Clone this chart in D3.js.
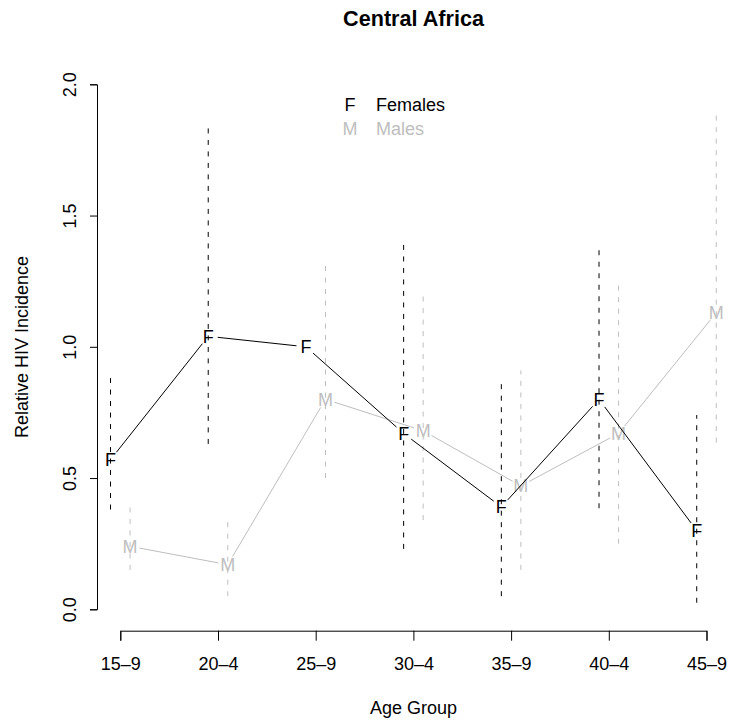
<!DOCTYPE html>
<html>
<head>
<meta charset="utf-8">
<script src="https://cdn.jsdelivr.net/npm/d3@7"></script>
<style>
  body { margin: 0; background: #fff; }
  text { font-family: "Liberation Sans", Arial, sans-serif; }
</style>
</head>
<body>
<svg id="chart" width="729" height="723"></svg>
<script>
// ==========================================================================
// DATA
// ==========================================================================

var ageGroups = ["15\u20139", "20\u20134", "25\u20139", "30\u20134", "35\u20139", "40\u20134", "45\u20139"]

var femaleRR = [0.57, 1.04, 1.00, 0.67, 0.39, 0.80, 0.30]
var femaleLo = [0.38, 0.63, null, 0.23, 0.05, 0.385, 0.025]
var femaleHi = [0.90, 1.85, null, 1.41, 0.86, 1.39, 0.74]

var maleRR = [0.24, 0.17, 0.80, 0.68, 0.47, 0.67, 1.13]
var maleLo = [0.15, 0.05, 0.50, 0.34, 0.15, 0.25, 0.635]
var maleHi = [0.40, 0.35, 1.31, 1.20, 0.91, 1.25, 1.895]

var yTicks = [0, 0.5, 1, 1.5, 2]

// ==========================================================================
// D3 MAIN
// ==========================================================================

var svg = d3.select("#chart")
var fs = 18
var grey = "#bebebe"

var xScale = d3.scaleLinear().domain([1, 7]).range([120.3, 706.5])
var yScale = d3.scaleLinear().domain([0, 2]).range([609.3, 84.3])

// axes
var yAxis = d3.axisLeft(yScale).tickValues(yTicks).tickSize(7).tickSizeOuter(7)
  .tickFormat(d3.format(".1f"))
var gy = svg.append("g").attr("transform", "translate(97,0)").call(yAxis)
gy.selectAll("text")
  .attr("x", null).attr("dy", null)
  .attr("transform", "translate(-21,0) rotate(-90)")
  .attr("text-anchor", "middle")

var xAxis = d3.axisBottom(xScale).tickValues(d3.range(1, 8)).tickSize(10).tickSizeOuter(10)
  .tickFormat((d, i) => ageGroups[i])
var gx = svg.append("g").attr("transform", "translate(0,630.7)").call(xAxis)
gx.selectAll("text").attr("y", 39.3).attr("dy", null)

svg.selectAll(".domain, .tick line").attr("stroke", "#000").attr("stroke-width", 1)
svg.selectAll(".tick text").attr("font-size", fs).attr("fill", "#000")
  .attr("font-family", "Liberation Sans, Arial, sans-serif")

// titles
svg.append("text").attr("x", 413.5).attr("y", 26).attr("text-anchor", "middle")
  .attr("font-size", 21.6).attr("font-weight", "bold").text("Central Africa")
svg.append("text").attr("x", 413.5).attr("y", 714).attr("text-anchor", "middle")
  .attr("font-size", fs).text("Age Group")
svg.append("text").attr("transform", "translate(28,347) rotate(-90)").attr("text-anchor", "middle")
  .attr("font-size", fs).text("Relative HIV Incidence")

// series
function drawSeries(vals, lo, hi, offset, color, letter) {
  var g = svg.append("g")
  var pts = vals.map((v, i) => [xScale(i + 1 + offset), yScale(v)])

  // confidence intervals
  g.selectAll("line.ci").data(vals.map((v, i) => i).filter(i => lo[i] != null)).enter()
    .append("line")
    .attr("x1", i => xScale(i + 1 + offset)).attr("x2", i => xScale(i + 1 + offset))
    .attr("y1", i => yScale(lo[i])).attr("y2", i => yScale(hi[i]))
    .attr("stroke", color).attr("stroke-width", 1).attr("stroke-dasharray", "5,6.5")

  // connecting lines, broken round the letters
  var gap = 9.5
  var segs = d3.pairs(pts).map(function(p) {
    var dx = p[1][0] - p[0][0], dy = p[1][1] - p[0][1]
    var len = Math.sqrt(dx * dx + dy * dy)
    var ux = dx / len, uy = dy / len
    return [p[0][0] + ux * gap, p[0][1] + uy * gap, p[1][0] - ux * gap, p[1][1] - uy * gap]
  })
  g.selectAll("line.seg").data(segs).enter().append("line")
    .attr("x1", d => d[0]).attr("y1", d => d[1]).attr("x2", d => d[2]).attr("y2", d => d[3])
    .attr("stroke", color).attr("stroke-width", 1)

  // letters
  g.selectAll("text").data(vals).enter().append("text")
    .attr("x", (d, i) => xScale(i + 1 + offset))
    .attr("y", d => yScale(d) + fs * 0.36)
    .attr("text-anchor", "middle").attr("font-size", fs).attr("fill", color)
    .text(letter)
}

drawSeries(maleRR, maleLo, maleHi, 0.1, grey, "M")
drawSeries(femaleRR, femaleLo, femaleHi, -0.1, "#000", "F")

// legend
var legendItems = [{k: "F", label: "Females", color: "#000"}, {k: "M", label: "Males", color: grey}]
var lg = svg.append("g").selectAll("g").data(legendItems).enter().append("g")
  .attr("transform", (d, i) => "translate(0," + (105 + i * 23.5) + ")")
lg.append("text").attr("x", 350).attr("y", fs * 0.36).attr("text-anchor", "middle")
  .attr("font-size", fs).attr("fill", d => d.color).text(d => d.k)
lg.append("text").attr("x", 376).attr("y", fs * 0.36)
  .attr("font-size", fs).attr("fill", d => d.color).text(d => d.label)
</script>
</body>
</html>
